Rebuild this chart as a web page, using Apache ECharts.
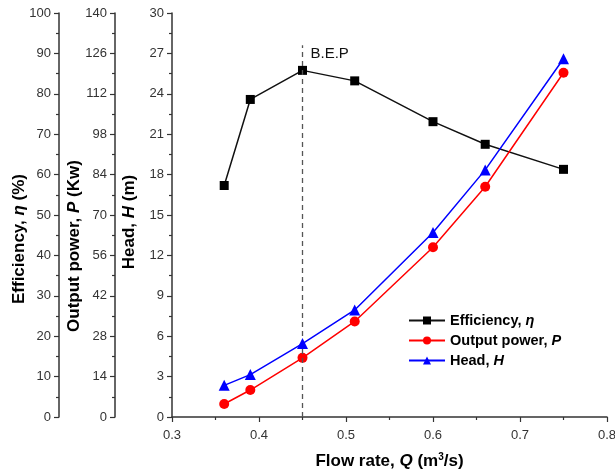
<!DOCTYPE html>
<html>
<head>
<meta charset="utf-8">
<script src="https://cdn.jsdelivr.net/npm/echarts@6/dist/echarts.min.js"></script>
<style>
  html, body { margin: 0; padding: 0; background: #fff; }
  #main { width: 615px; height: 472px; }
</style>
</head>
<body>
<div id="main"></div>
<script>
const flowRate = [0.36, 0.39, 0.45, 0.51, 0.6, 0.66, 0.75]
const efficiency = [57.3, 78.6, 85.8, 83.2, 73.1, 67.5, 61.3]
const outputPower = [4.5, 9.35, 20.5, 33.1, 58.8, 79.8, 119.3]
const head = [2.35, 3.15, 5.45, 7.95, 13.7, 18.35, 26.6]
const bepFlow = 0.45

const pairs = ys => flowRate.map((x, i) => [x, ys[i]])

const font = '"Liberation Sans", Arial, sans-serif'
const axisColor = '#333'
const nameRich = {
  b: { fontFamily: font, fontSize: 17, fontWeight: 'bold', color: '#000' },
  i: { fontFamily: font, fontSize: 17, fontWeight: 'bold', fontStyle: 'italic', color: '#000' }
}

// shift = how far the rotated name sits below the axis middle
const yAxisBase = (min, max, interval, offset, name, gap, shift) => ({
  type: 'value',
  position: 'left',
  offset,
  min,
  max,
  interval,
  name,
  nameLocation: 'middle',
  nameRotate: 90,
  nameGap: gap,
  nameMoveOverlap: false,
  nameTextStyle: {
    fontFamily: font,
    fontSize: 17,
    fontWeight: 'bold',
    color: '#000',
    padding: [0, shift * 2, 0, 0],
    rich: nameRich
  },
  axisLine: { show: true, lineStyle: { color: axisColor, width: 1.5 } },
  axisTick: { show: true, inside: false, length: 5, lineStyle: { color: axisColor, width: 1.2 } },
  minorTick: { show: true, splitNumber: 2, length: 3, lineStyle: { color: axisColor, width: 1.2 } },
  axisLabel: { fontFamily: font, fontSize: 13, color: '#333', margin: 8 },
  splitLine: { show: false }
})

const chart = echarts.init(document.getElementById('main'))

chart.setOption({
  animation: false,
  backgroundColor: '#fff',
  grid: { left: 172, right: 8, top: 13, bottom: 55, containLabel: false, outerBoundsMode: 'none' },
  legend: {
    orient: 'vertical',
    left: 403,
    top: 308,
    itemWidth: 36,
    itemHeight: 10,
    itemGap: 5,
    data: ['Efficiency', 'Output power', 'Head'],
    formatter: name => {
      if (name === 'Efficiency') return '{b|Efficiency, }{i|η}'
      if (name === 'Output power') return '{b|Output power, }{i|P}'
      return '{b|Head, }{i|H}'
    },
    textStyle: {
      rich: {
        b: { fontFamily: font, fontSize: 14.5, fontWeight: 'bold', color: '#000' },
        i: { fontFamily: font, fontSize: 14.5, fontWeight: 'bold', fontStyle: 'italic', color: '#000' }
      }
    }
  },
  xAxis: {
    type: 'value',
    min: 0.3,
    max: 0.8,
    interval: 0.1,
    name: '{b|Flow rate, }{i|Q}{b| (m}{s|3}{b|/s)}',
    nameLocation: 'middle',
    nameGap: 35,
    nameMoveOverlap: false,
    nameTextStyle: {
      rich: {
        b: nameRich.b,
        i: nameRich.i,
        s: { fontFamily: font, fontSize: 10, fontWeight: 'bold', color: '#000', padding: [0, 0, 9, 0] }
      }
    },
    axisLine: { show: true, onZero: false, lineStyle: { color: axisColor, width: 1.5 } },
    axisTick: { show: true, inside: false, length: 5, lineStyle: { color: axisColor, width: 1.2 } },
    minorTick: { show: true, splitNumber: 2, length: 3, lineStyle: { color: axisColor, width: 1.2 } },
    axisLabel: { fontFamily: font, fontSize: 13, color: '#333', margin: 12, formatter: v => v.toFixed(1) },
    splitLine: { show: false }
  },
  yAxis: [
    yAxisBase(0, 100, 10, 113, '{b|Efficiency, }{i|η}{b| (%)}', 31, 24),
    yAxisBase(0, 140, 14, 57, '{b|Output power, }{i|P}{b| (Kw)}', 32, 31),
    yAxisBase(0, 30, 3, 0, '{b|Head, }{i|H}{b| (m)}', 34, 7)
  ],
  series: [
    {
      name: 'Efficiency',
      type: 'line',
      yAxisIndex: 0,
      data: pairs(efficiency),
      symbol: 'rect',
      symbolSize: 9,
      lineStyle: { color: '#111', width: 1.5 },
      itemStyle: { color: '#000' },
      z: 3,
      markLine: {
        silent: true,
        symbol: 'none',
        lineStyle: { color: '#555', type: [5, 4], width: 1.3 },
        label: { show: false },
        data: [[{ coord: [bepFlow, 0] }, { coord: [bepFlow, 92] }]]
      },
      markPoint: {
        silent: true,
        symbol: 'circle',
        symbolSize: 0,
        data: [{
          coord: [bepFlow, 90],
          label: {
            show: true,
            formatter: 'B.E.P',
            position: 'right',
            distance: 8,
            fontFamily: font,
            fontSize: 15,
            color: '#111'
          }
        }]
      }
    },
    {
      name: 'Output power',
      type: 'line',
      yAxisIndex: 1,
      data: pairs(outputPower),
      symbol: 'circle',
      symbolSize: 10,
      lineStyle: { color: '#ff0000', width: 1.5 },
      itemStyle: { color: '#ff0000' },
      z: 4
    },
    {
      name: 'Head',
      type: 'line',
      yAxisIndex: 2,
      data: pairs(head),
      symbol: 'triangle',
      symbolSize: 11,
      lineStyle: { color: '#0000ff', width: 1.5 },
      itemStyle: { color: '#0000ff' },
      z: 5
    }
  ]
})
</script>
</body>
</html>
